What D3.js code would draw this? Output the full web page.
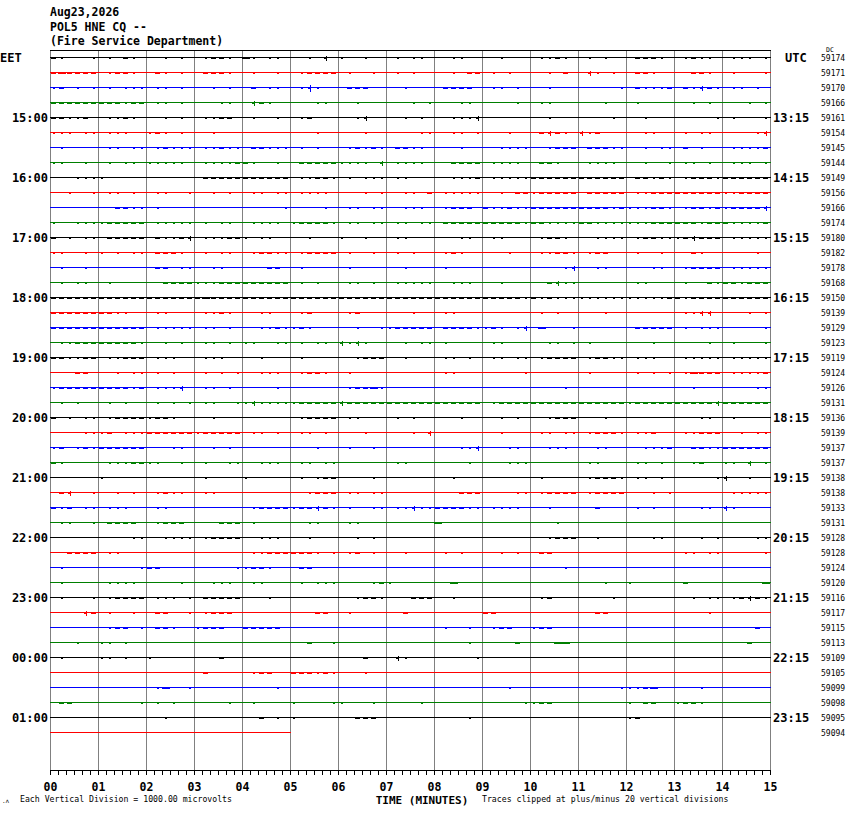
<!DOCTYPE html>
<html>
<head>
<meta charset="utf-8">
<script src="https://cdn.jsdelivr.net/npm/d3@7"></script>
<style>
body { margin: 0; background: #fff; }
svg { display: block; }
text { font-family: "DejaVu Sans Mono", "Liberation Mono", monospace; fill: #000; }
</style>
</head>
<body>
<svg id="heli"></svg>
<script>
// helicorder page: POL5 HNE, 15 minutes per line, 46 lines

const headerLines = ["Aug23,2026", "POL5 HNE CQ --", "(Fire Service Department)"];

const minuteLabels = ["00","01","02","03","04","05","06","07","08","09","10","11","12","13","14","15"];

// hour labels, one every 4 lines starting at line 4
const eetLabels = ["15:00","16:00","17:00","18:00","19:00","20:00","21:00","22:00","23:00","00:00","01:00"];
const utcLabels = ["13:15","14:15","15:15","16:15","17:15","18:15","19:15","20:15","21:15","22:15","23:15"];

// DC offset printed at the right of each line
const dcOffsets = [
  59174, 59171, 59170, 59166, 59161, 59154, 59145, 59144,
  59149, 59156, 59166, 59174, 59180, 59182, 59178, 59168,
  59150, 59139, 59129, 59123, 59119, 59124, 59126, 59131,
  59136, 59139, 59137, 59137, 59138, 59138, 59133, 59131,
  59128, 59128, 59124, 59120, 59116, 59117, 59115, 59113,
  59109, 59105, 59099, 59098, 59095, 59094
];

// trace activity per 10 s bin (6 per minute)
// 0 quiet, 1-3 growing noise band, 4-5 spikes
const traceNoise = [
  "210001 010210 001010 012210 310110 001040 100100 010110 001100 001000 011210 010100 022210 012110 011101",
  "232222 012210 021010 022210 010010 012222 010010 010100 001022 010100 001020 041010 022100 002210 010001",
  "120101 010111 011010 001010 020110 015100 022200 001000 022220 011010 001000 000001 021112 021421 011010",
  "222222 222122 011010 000110 042100 000110 001000 000101 000110 000010 011000 000100 010000 001010 000101",
  "221120 011210 001010 011220 010010 012000 001400 001010 001114 000000 001000 000010 001000 000001 010001",
  "111011 011100 121010 001000 000000 000100 000100 000011 001101 000100 024210 412000 001100 010110 000014",
  "010000 011011 012111 011211 022111 010100 012121 022110 000100 001111 001222 022211 001011 020100 011112",
  "110010 010110 111110 011112 210010 022222 111104 011110 002222 011110 022100 011110 001001 011010 011101",
  "000111 100000 000000 022222 222222 011221 010111 011000 001112 011111 222222 222222 022121 012221 222222",
  "001001 011010 011001 001010 011011 011110 000101 001102 011111 001022 122222 022222 011222 222222 112222",
  "000000 002211 010000 000000 000001 000010 011011 001110 012220 211211 222222 222212 111221 012212 122224",
  "100111 122222 011111 010110 011110 122221 011011 011011 022222 222221 221111 221111 111222 222122 211112",
  "201011 022222 021124 011122 101100 001000 100100 011000 000110 011000 012210 001111 012211 124222 011111",
  "110010 101011 022210 010110 012211 012222 010010 010100 012100 000100 011221 012200 010010 002100 000010",
  "010010 000000 022011 001100 000220 010000 010000 001000 010000 000000 000014 001100 000110 012222 011111",
  "010110 010000 002222 111222 222222 010100 011010 011111 001110 001000 002411 000000 011000 010021 221222",
  "222222 222222 222222 232222 222222 222222 222222 222222 222222 222221 212111 111111 111112 212222 222222",
  "222222 221100 011000 011210 001100 012000 012000 000100 011000 000000 010100 000100 000000 011440 000101",
  "222222 222222 011111 011010 001121 121000 001001 122222 022221 121014 030001 000000 022222 010111 000001",
  "011222 222221 001010 011010 110011 010110 414100 001011 010000 011000 001101 010000 000100 000010 010001",
  "221122 011222 011100 011100 001000 010000 001222 001000 011010 011011 012222 012211 011100 011111 011111",
  "000220 001011 010100 010101 001110 012210 010000 000000 011000 000001 000000 010000 010101 013222 011112",
  "122222 222212 011140 011010 000010 000000 012231 000000 000000 000000 000010 000000 000000 001000 000011",
  "010100 010100 010101 011001 141111 122222 422222 222222 222222 012222 222222 222222 122222 222224 222222",
  "201011 012222 122100 001000 000000 012222 011000 010100 000100 001010 001222 000100 000000 000110 010000",
  "000011 120111 222222 122222 011010 011010 000100 000104 000000 001000 011011 012221 011200 011222 001011",
  "120121 222222 000110 001010 000000 000100 010010 000000 000114 000110 001110 001100 001112 002211 222222",
  "210000 011122 110010 010011 001110 011011 000000 011000 000010 000111 000000 011000 011010 001200 110401",
  "000000 100000 000000 010000 100000 010122 000010 000000 001000 000000 010000 012221 011010 000001 400100",
  "024001 001010 012110 011000 000000 001222 011011 000000 000222 000011 012222 012222 000101 000000 011111",
  "212011 011100 011000 000000 012222 122421 010011 011411 222211 011110 001000 002000 010100 000110 410000",
  "011001 022220 012220 000222 010000 001100 011000 000000 300000 000000 000100 000000 000000 000000 000000",
  "000000 000011 001111 012222 001110 001000 001010 000000 000000 000000 001222 001000 000110 000101 000011",
  "002222 011000 000000 000000 011222 222101 012010 001000 010100 001010 022000 000000 000000 011011 000001",
  "010000 000001 220000 000001 122100 022000 000000 000000 000000 000000 000010 000000 000000 000000 000000",
  "010000 011110 000010 001110 011000 010111 000012 100000 003000 000000 000000 000100 100000 020000 000003",
  "010001 012222 011101 022222 000100 000000 001221 000222 001000 000000 012000 000010 000000 001011 012421",
  "000042 010010 022001 012220 000000 000220 010000 002000 000000 220000 000000 002200 000000 000010 000000",
  "000000 012201 022100 122200 222220 000000 000000 000000 010010 012200 122000 000000 000000 000000 000020",
  "000100 110100 000000 000000 000000 002001 000000 000000 000010 000020 000330 000000 000000 000000 000200",
  "010000 110100 100000 000200 000000 000000 000200 041000 000001 000000 000000 000000 000000 000000 000000",
  "000000 000000 000000 020000 012200 222121 000100 000000 000000 000000 000000 000000 000000 000000 000000",
  "000000 000000 013001 000000 000010 000000 000000 000000 000000 000100 000000 000001 112300 000100 000000",
  "022000 000001 010100 000010 010000 100001 100010 000010 000000 000001 122000 000000 102200 122100 000000",
  "000000 000000 001000 000000 002010 100000 002220 000000 000010 000000 000000 000000 120000 000000 000000",
  "000000 000000 000000 000000 000000"
];

const traceColors = ["#000000", "#ff0000", "#0000ff", "#007f00"];
const MARK_W = [0, 2, 5, 8, 3, 3];   // width of the noise band per level
const SPIKE = [0, 0, 0, 0, 2, 3];    // half height of spikes per level

const W = 850, H = 814;
const svg = d3.select("#heli")
    .attr("width", W)
    .attr("height", H)
    .attr("shape-rendering", "crispEdges");

svg.append("rect").attr("width", W).attr("height", H).attr("fill", "#fff");

const x = d3.scaleLinear().domain([0, 15]).range([50, 770]);
const y = d3.scaleLinear().domain([0, 45]).range([57.5, 57.5 + 15 * 45]);
const plotTop = 50, plotBottom = 770;

// header
svg.selectAll("text.hdr")
    .data(headerLines)
    .enter().append("text")
    .attr("class", "hdr")
    .attr("x", 50)
    .attr("y", (d, i) => 16 + i * 14.5)
    .attr("font-size", "11.5px")
    .attr("font-weight", "bold")
    .text(d => d);

// vertical minute lines
svg.selectAll("line.grid")
    .data(d3.range(16))
    .enter().append("line")
    .attr("class", "grid")
    .attr("x1", d => x(d) + 0.5).attr("x2", d => x(d) + 0.5)
    .attr("y1", plotTop).attr("y2", plotBottom)
    .attr("stroke", "#808080");

// top border
svg.append("line")
    .attr("x1", x(0)).attr("x2", x(15) + 1)
    .attr("y1", plotTop + 0.5).attr("y2", plotTop + 0.5)
    .attr("stroke", "#000");

// traces
const rows = traceNoise.map((s, k) => ({ k: k, bins: s.replace(/ /g, "").split("").map(Number) }));

const traces = svg.selectAll("g.trace")
    .data(rows)
    .enter().append("g")
    .attr("class", "trace")
    .attr("fill", d => traceColors[d.k % 4])
    .attr("stroke", d => traceColors[d.k % 4]);

traces.append("line")
    .attr("x1", x(0))
    .attr("x2", d => x(d.bins.length / 6) + 1)
    .attr("y1", d => y(d.k)).attr("y2", d => y(d.k));

traces.each(function(row) {
    const g = d3.select(this);
    const yy = y(row.k);
    const marks = row.bins.map((v, i) => ({ v: v, t: i / 6 })).filter(b => b.v > 0);

    g.selectAll("rect")
        .data(marks)
        .enter().append("rect")
        .attr("stroke", "none")
        .attr("x", b => x(b.t) + Math.floor((8 - MARK_W[b.v]) / 2))
        .attr("y", yy + 0.5)
        .attr("width", b => MARK_W[b.v])
        .attr("height", 1);

    g.selectAll("line.spike")
        .data(marks.filter(b => SPIKE[b.v] > 0))
        .enter().append("line")
        .attr("class", "spike")
        .attr("x1", b => x(b.t) + 4.5).attr("x2", b => x(b.t) + 4.5)
        .attr("y1", b => yy - SPIKE[b.v]).attr("y2", b => yy + SPIKE[b.v] + 1);
});

// left / right hour labels
const hourRows = eetLabels.map((d, i) => 4 + i * 4);

svg.selectAll("text.eet")
    .data(eetLabels)
    .enter().append("text")
    .attr("class", "eet")
    .attr("x", 48)
    .attr("y", (d, i) => y(hourRows[i]) + 4.5)
    .attr("text-anchor", "end")
    .attr("font-size", "12px")
    .attr("font-weight", "bold")
    .text(d => d);

svg.selectAll("text.utc")
    .data(utcLabels)
    .enter().append("text")
    .attr("class", "utc")
    .attr("x", 773)
    .attr("y", (d, i) => y(hourRows[i]) + 4.5)
    .attr("font-size", "12px")
    .attr("font-weight", "bold")
    .text(d => d);

svg.append("text").attr("x", 0).attr("y", y(0) + 4)
    .attr("font-size", "12px").attr("font-weight", "bold").text("EET");
svg.append("text").attr("x", 785).attr("y", y(0) + 4)
    .attr("font-size", "12px").attr("font-weight", "bold").text("UTC");

// DC offsets
svg.selectAll("text.dc")
    .data(dcOffsets)
    .enter().append("text")
    .attr("class", "dc")
    .attr("x", 821)
    .attr("y", (d, i) => y(i) + 3.5)
    .attr("font-size", "8px")
    .text(d => d);
svg.append("text").attr("x", 826).attr("y", 52).attr("font-size", "6.5px").text("DC");

// time axis
const minorAxis = d3.axisBottom(x)
    .tickValues(d3.range(0, 91).map(i => i / 6))
    .tickSize(5)
    .tickSizeOuter(0)
    .tickFormat("");
svg.append("g")
    .attr("transform", `translate(0,${plotBottom})`)
    .call(minorAxis)
    .call(g => g.selectAll("line, path").attr("stroke", "#000"));

const majorAxis = d3.axisBottom(x)
    .tickValues(d3.range(16))
    .tickSize(5)
    .tickSizeOuter(0)
    .tickPadding(7.8)
    .tickFormat((d, i) => minuteLabels[i]);
svg.append("g")
    .attr("transform", `translate(0,${plotBottom})`)
    .call(majorAxis)
    .call(g => g.select(".domain").remove())
    .call(g => g.selectAll("line").attr("stroke", "#000"))
    .call(g => g.selectAll("text")
        .attr("font-family", "DejaVu Sans Mono, monospace")
        .attr("font-size", "11.5px")
        .attr("font-weight", "bold")
        .attr("fill", "#000"));

// footer
svg.append("text").attr("x", 422).attr("y", 804)
    .attr("text-anchor", "middle")
    .attr("font-size", "11px").attr("font-weight", "bold")
    .text("TIME (MINUTES)");
svg.append("text").attr("x", 20).attr("y", 802)
    .attr("font-size", "8.2px")
    .text("Each Vertical Division = 1000.00 microvolts");
svg.append("text").attr("x", 482).attr("y", 802)
    .attr("font-size", "8.2px")
    .text("Traces clipped at plus/minus 20 vertical divisions");
svg.append("text").attr("x", 2).attr("y", 803)
    .attr("font-size", "6px")
    .text(".ʌ");
</script>
</body>
</html>
